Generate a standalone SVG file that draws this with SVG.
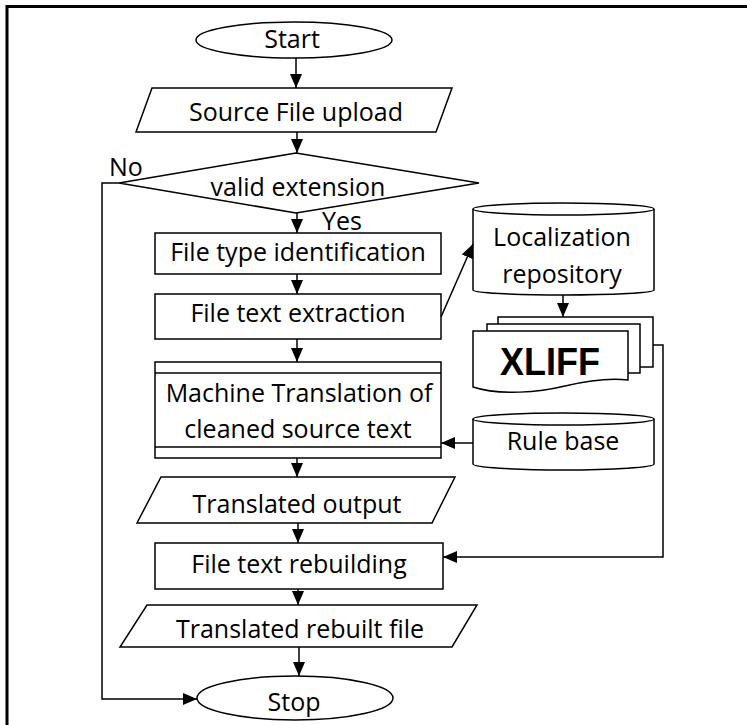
<svg xmlns="http://www.w3.org/2000/svg" width="747" height="725" viewBox="0 0 747 725">
<defs>
<marker id="ah" markerUnits="userSpaceOnUse" markerWidth="14" markerHeight="12" refX="14" refY="6" orient="auto">
<path d="M0,0 L14,6 L0,12 z" fill="#000"/>
</marker>
<style>
.s{fill:#fff;stroke:#000;stroke-width:1.5}
.t{font-family:"Open Sans","Liberation Sans",sans-serif;font-size:25px;fill:#000;text-anchor:middle}
.c{fill:none;stroke:#000;stroke-width:1.5}
.a{fill:none;stroke:#000;stroke-width:1.5;marker-end:url(#ah)}
</style>
</defs>
<rect width="747" height="725" fill="#fff"/>
<path d="M7,725 V6.5 H747" fill="none" stroke="#000" stroke-width="3"/>

<g id="start">
<ellipse class="s" cx="294" cy="40" rx="98" ry="18"/>
<text class="t" x="292" y="48">Start</text>
</g>
<g id="source-upload">
<polygon class="s" points="152,88 452,88 436,132 136,132"/>
<text class="t" x="296" y="121">Source File upload</text>
</g>
<g id="valid-extension">
<polygon class="s" points="119,183 296,153 479,183 296,213"/>
<text class="t" x="298" y="196">valid extension</text>
</g>
<g id="file-type">
<rect class="s" x="155" y="233" width="286" height="41"/>
<text class="t" x="298" y="261">File type identification</text>
</g>
<g id="text-extraction">
<rect class="s" x="155" y="294" width="286" height="45"/>
<text class="t" x="298" y="322">File text extraction</text>
</g>
<g id="machine-translation">
<rect class="s" x="155" y="362" width="286" height="96"/>
<line class="c" x1="155" y1="373" x2="441" y2="373"/>
<line class="c" x1="155" y1="447" x2="441" y2="447"/>
<text class="t" x="299" y="402">Machine Translation of</text>
<text class="t" x="298" y="438">cleaned source text</text>
</g>
<g id="translated-output">
<polygon class="s" points="161,477 455,477 432,523 137,523"/>
<text class="t" x="297" y="513">Translated output</text>
</g>
<g id="text-rebuilding">
<rect class="s" x="155" y="543" width="288" height="46"/>
<text class="t" x="299" y="573">File text rebuilding</text>
</g>
<g id="rebuilt-file">
<polygon class="s" points="147,605 477,605 452,647 120,647"/>
<text class="t" x="300" y="638">Translated rebuilt file</text>
</g>
<g id="stop">
<ellipse class="s" cx="295" cy="698" rx="98" ry="22"/>
<text class="t" x="294" y="711">Stop</text>
</g>
<g id="localization-repository">
<path class="s" d="M473,209 V290 A90.5,5 0 0 0 654,290 V209"/>
<ellipse class="s" cx="563.5" cy="209" rx="90.5" ry="6"/>
<text class="t" x="562" y="246">Localization</text>
<text class="t" x="562" y="283">repository</text>
</g>
<g id="xliff">
<rect class="s" x="498" y="317" width="155" height="50"/>
<rect class="s" x="487" y="324" width="153" height="49"/>
<path class="s" d="M473,331 H628 V380 C612,378 590,380 565,386 C540,392 500,396 473,387 Z"/>
<text x="550" y="375" font-family="'Liberation Sans',Arial,sans-serif" font-weight="bold" font-size="38" text-anchor="middle" textLength="100" lengthAdjust="spacingAndGlyphs">XLIFF</text>
</g>
<g id="rule-base">
<path class="s" d="M473,419 V464 A90.5,6 0 0 0 654,464 V419"/>
<ellipse class="s" cx="563.5" cy="419" rx="90.5" ry="6"/>
<text class="t" x="563" y="450">Rule base</text>
</g>

<g id="connectors">
<line class="a" x1="296" y1="58" x2="296" y2="88"/>
<line class="a" x1="297" y1="132" x2="297" y2="153"/>
<line class="a" x1="297" y1="213" x2="297" y2="233"/>
<line class="a" x1="297" y1="274" x2="297" y2="294"/>
<line class="a" x1="297" y1="339" x2="297" y2="362"/>
<line class="a" x1="297" y1="458" x2="297" y2="477"/>
<line class="a" x1="298" y1="523" x2="298" y2="543"/>
<line class="a" x1="298" y1="589" x2="298" y2="605"/>
<line class="a" x1="299" y1="647" x2="299" y2="676"/>
<path class="a" d="M119,183 H102 V699 H197"/>
<line class="a" x1="441" y1="317" x2="473" y2="244"/>
<line class="a" x1="563" y1="295" x2="563" y2="317"/>
<line class="a" x1="473" y1="443" x2="441" y2="443"/>
<path class="a" d="M653,345 H663 V557 H443"/>
<text class="t" x="109" y="176" style="text-anchor:start">No</text>
<text class="t" x="322" y="230" style="text-anchor:start">Yes</text>
</g>
</svg>
